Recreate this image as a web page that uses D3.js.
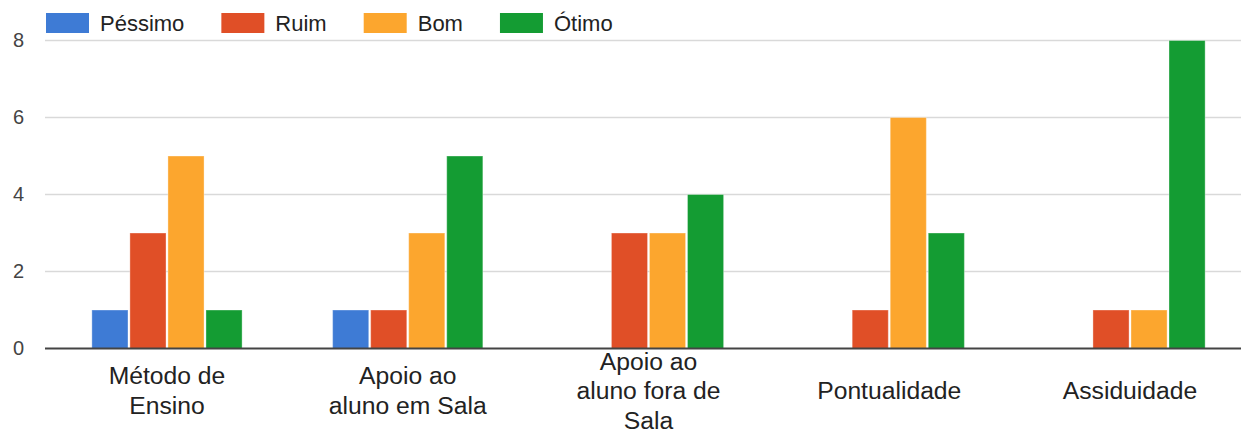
<!DOCTYPE html>
<html>
<head>
<meta charset="utf-8">
<script src="https://cdn.jsdelivr.net/npm/d3@7"></script>
<style>
  body { margin: 0; background: #fff; }
  text { font-family: "Liberation Sans", Arial, Helvetica, sans-serif; }
</style>
</head>
<body>
<svg id="drawing_region"></svg>
<script>
// data
const categories = ["Método de Ensino", "Apoio ao aluno em Sala", "Apoio ao aluno fora de Sala", "Pontualidade", "Assiduidade"];
const category_lines = [["Método de", "Ensino"], ["Apoio ao", "aluno em Sala"], ["Apoio ao", "aluno fora de", "Sala"], ["Pontualidade"], ["Assiduidade"]];
const series = ["Péssimo", "Ruim", "Bom", "Ótimo"];
const pessimo = [1, 1, 0, 0, 0];
const ruim    = [3, 1, 3, 1, 1];
const bom     = [5, 3, 3, 6, 1];
const otimo   = [1, 5, 4, 3, 8];
const y_ticks = [0, 2, 4, 6, 8];

const colors = ["#3e7bd5", "#e04f27", "#fca62e", "#149c33"];
const values = [pessimo, ruim, bom, otimo];

const data = [];
categories.forEach( (c, i) => {
    series.forEach( (s, j) => {
        data.push({ category: c, series: s, value: values[j][i] });
    });
});

var config = {
    width: 1241,
    height: 433,
    plot_left: 45,
    plot_top: 40.5,
    plot_bottom: 348.5
};

const svg = d3.select('#drawing_region')
    .attr('width', config.width)
    .attr('height', config.height);

const yscale = d3.scaleLinear()
    .domain([0, 8])
    .range([config.plot_bottom, config.plot_top]);

const xscale = d3.scaleBand()
    .domain(categories)
    .range([46.6, 1250.4])
    .paddingInner(0.376)
    .paddingOuter(0.188);

const xsub = d3.scaleBand()
    .domain(series)
    .range([0, xscale.bandwidth()])
    .paddingInner(0.05);

const color = d3.scaleOrdinal().domain(series).range(colors);

// gridlines
svg.append('g')
    .selectAll('line')
    .data(y_ticks.filter(d => d > 0))
    .enter()
    .append('line')
    .attr('x1', config.plot_left)
    .attr('x2', config.width)
    .attr('y1', d => yscale(d))
    .attr('y2', d => yscale(d))
    .attr('stroke', '#d9d9d9')
    .attr('stroke-width', 1.3);

// y tick labels
const yaxis = d3.axisLeft(yscale).tickValues(y_ticks).tickSize(0).tickPadding(0);
const yaxis_group = svg.append('g')
    .attr('transform', `translate(24, 0)`)
    .call(yaxis);
yaxis_group.select('.domain').remove();
yaxis_group.selectAll('text')
    .attr('fill', '#444')
    .attr('font-size', '20px')
    .attr('font-family', '"Liberation Sans", Arial, sans-serif');

// bars
svg.append('g')
    .selectAll('rect')
    .data(data.filter(d => d.value > 0))
    .enter()
    .append('rect')
    .attr('x', d => xscale(d.category) + xsub(d.series))
    .attr('y', d => yscale(d.value))
    .attr('width', xsub.bandwidth())
    .attr('height', d => yscale(0) - yscale(d.value))
    .attr('fill', d => color(d.series))
    .attr('stroke', '#ffffff')
    .attr('stroke-opacity', 0.35)
    .attr('stroke-width', 1);

// baseline
svg.append('line')
    .attr('x1', config.plot_left)
    .attr('x2', config.width)
    .attr('y1', yscale(0))
    .attr('y2', yscale(0))
    .attr('stroke', '#444')
    .attr('stroke-width', 2);

// category labels
const labels = svg.append('g')
    .selectAll('text')
    .data(categories)
    .enter()
    .append('text')
    .attr('text-anchor', 'middle')
    .attr('font-size', '24.7px')
    .attr('fill', '#222');
labels.each( function(d, i) {
    const lines = category_lines[i];
    const cx = xscale(d) + xscale.bandwidth() / 2;
    d3.select(this).selectAll('tspan')
        .data(lines)
        .enter()
        .append('tspan')
        .attr('x', cx)
        .attr('y', (l, k) => 399 + (k - (lines.length - 1) / 2) * 29.5)
        .text(l => l);
});

// legend
const legend = svg.append('g');
let lx = 46;
series.forEach( (s, j) => {
    legend.append('rect')
        .attr('x', lx)
        .attr('y', 13)
        .attr('width', 43)
        .attr('height', 20)
        .attr('fill', color(s));
    const t = legend.append('text')
        .attr('x', lx + 54)
        .attr('y', 31)
        .attr('font-size', '22px')
        .attr('fill', '#222')
        .text(s);
    lx += 54 + t.node().getComputedTextLength() + 37;
});
</script>
</body>
</html>
